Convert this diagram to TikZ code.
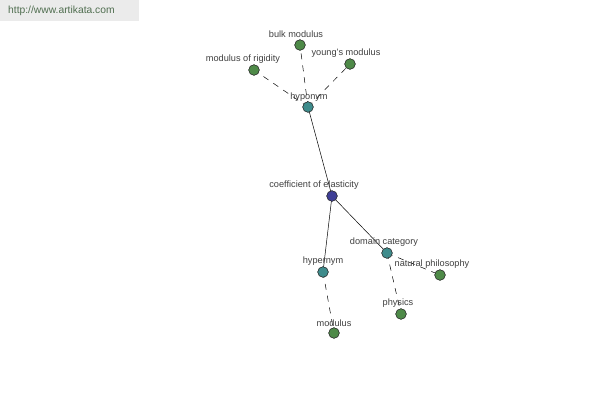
\documentclass[tikz,border=0pt]{standalone}
\usepackage{fontspec}
\setmainfont{Liberation Sans}
\begin{document}
\begin{tikzpicture}[x=1pt,y=-1pt,
  dot/.style={circle,draw=black!80,line width=0.5pt,inner sep=0pt,minimum size=10.5pt},
  gdot/.style={dot,fill=leafgreen},
  tdot/.style={dot,fill=tealc},
  bdot/.style={dot,fill=bluec},
  lbl/.style={font=\fontsize{9.2}{11}\selectfont,text=black!75,inner sep=0pt},
  rel/.style={line width=0.5pt,black},
  drel/.style={rel,dash pattern=on 6pt off 6pt}]
\definecolor{leafgreen}{RGB}{78,138,72}
\definecolor{tealc}{RGB}{62,140,140}
\definecolor{bluec}{RGB}{62,62,150}
\definecolor{wmbg}{RGB}{235,235,235}
\definecolor{wmtext}{RGB}{80,110,80}
\useasboundingbox (0,0) rectangle (600,400);
\fill[white] (0,0) rectangle (600,400);
\fill[wmbg] (0,0) rectangle (139,21);
\node[anchor=west,font=\fontsize{10.3}{12}\selectfont,text=wmtext,inner sep=0pt] (wm) at (8,11) {http://www.artikata.com};
% nodes
\node[tdot] (hypo) at (308,107) {};
\node[gdot] (bulk) at (300,45) {};
\node[gdot] (young) at (350,64) {};
\node[gdot] (rigid) at (254,70) {};
\node[bdot] (coef) at (332,196) {};
\node[tdot] (dom) at (387,253) {};
\node[gdot] (nat) at (440,275) {};
\node[gdot] (phys) at (401,314) {};
\node[tdot] (hyper) at (323,272) {};
\node[gdot] (mod) at (334,333) {};
% edges
\draw[rel] (hypo.center) -- (coef.center);
\draw[rel] (coef.center) -- (hyper.center);
\draw[rel] (coef.center) -- (dom.center);
\draw[drel] (hypo.center) -- (bulk.center);
\draw[drel] (hypo.center) -- (young.center);
\draw[drel] (hypo.center) -- (rigid.center);
\draw[drel] (hyper.center) -- (mod.center);
\draw[drel] (dom.center) -- (nat.center);
\draw[drel] (dom.center) -- (phys.center);
% redraw dots on top
\foreach \n/\s in {hypo/tdot,bulk/gdot,young/gdot,rigid/gdot,coef/bdot,dom/tdot,nat/gdot,phys/gdot,hyper/tdot,mod/gdot}
  \node[\s] at (\n) {};
% labels
\node[lbl] (lhypo) at (309,97) {hyponym};
\node[lbl] (lbulk) at (296,34) {bulk modulus};
\node[lbl] (lyoung) at (346,53) {young's modulus};
\node[lbl] (lrigid) at (243,59) {modulus of rigidity};
\node[lbl] (lcoef) at (314,185) {coefficient of elasticity};
\node[lbl] (ldom) at (384,242) {domain category};
\node[lbl] (lnat) at (432,264) {natural philosophy};
\node[lbl] (lphys) at (398,303) {physics};
\node[lbl] (lhyper) at (323,261) {hypernym};
\node[lbl] (lmod) at (334,323) {modulus};
\end{tikzpicture}
\end{document}
